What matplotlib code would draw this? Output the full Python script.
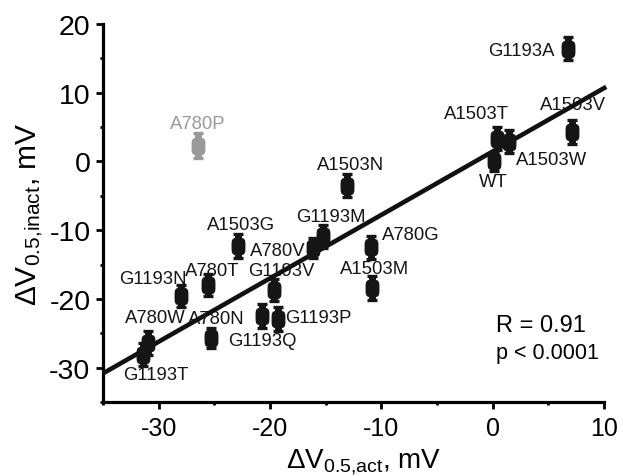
import matplotlib.pyplot as plt
import numpy as np
from matplotlib.path import Path

plt.rcParams['font.family'] = ['Liberation Sans', 'DejaVu Sans']
plt.rcParams['mathtext.fontset'] = 'custom'
plt.rcParams['mathtext.rm'] = 'Liberation Sans'
plt.rcParams['mathtext.default'] = 'regular'
plt.rcParams['axes.unicode_minus'] = False

# mutants, shift of V0.5 of activation / inactivation (mV)
names = ['G1193A', 'A780P', 'A1503T', 'A1503W', 'WT', 'A1503V', 'A1503N',
         'G1193M', 'A780V', 'A1503G', 'A780G', 'A1503M', 'G1193V', 'A780T',
         'G1193N', 'A780W', 'A780N', 'G1193P', 'G1193Q', 'G1193T']
dv_act = [6.8, -26.5, 0.4, 1.5, 0.15, 7.1, -13.1,
          -15.2, -16.1, -22.9, -10.9, -10.8, -19.6, -25.6,
          -28.0, -31.0, -25.3, -19.3, -20.7, -31.4]
dv_inact = [16.4, 2.3, 3.3, 2.9, 0.0, 4.3, -3.5,
            -10.9, -12.6, -12.3, -12.5, -18.4, -18.7, -18.0,
            -19.6, -26.4, -25.7, -22.9, -22.5, -28.1]
err_inact = [1.7, 1.8, 1.7, 1.7, 1.4, 1.8, 1.7,
             1.7, 1.4, 1.7, 1.7, 1.7, 1.6, 1.6,
             1.6, 1.7, 1.4, 1.7, 1.7, 1.7]
outlier = 'A780P'

# label placement, offset in pixels from the point (dx, dy down)
label_off = {
    'G1193A': (-47, 2), 'A780P': (0, -22), 'A1503T': (-21, -25),
    'A1503V': (1, -27), 'A1503W': (42, 18), 'WT': (-1, 20),
    'A1503N': (4, -21), 'G1193M': (7, -20), 'A1503G': (3, -21),
    'A780V': (-36, 2), 'A780G': (39, -13), 'A1503M': (2, -19),
    'G1193V': (7, -19), 'A780T': (5, -15), 'G1193N': (-28, -18),
    'A780W': (8, -25), 'A780N': (5, -20), 'G1193P': (41, -1),
    'G1193Q': (0, 24), 'G1193T': (13, 20),
}

# rounded "barrel" marker
t = np.linspace(0, 2 * np.pi, 60)
mx = 0.8 * np.sign(np.cos(t)) * np.abs(np.cos(t)) ** 0.5
my = np.sign(np.sin(t)) * np.abs(np.sin(t)) ** 0.5
barrel = Path(np.column_stack([mx, my]), closed=True)

fig = plt.figure(figsize=(6.23, 4.77), dpi=100)
ax = fig.add_axes([103 / 623, 74 / 477, 501 / 623, 378 / 477])

for n, x, y, e in zip(names, dv_act, dv_inact, err_inact):
    c = '#9a9a9a' if n == outlier else '#151515'
    ax.errorbar(x, y, yerr=e, fmt='none', ecolor=c, elinewidth=5,
                capsize=3.6, capthick=2.4, zorder=4)
    ax.plot(x, y, marker=barrel, ms=12.5, color=c, mew=0, zorder=5)
    dx, dy = label_off[n]
    ax.annotate(n, (x, y), xytext=(dx, -dy), textcoords='offset pixels',
                ha='center', va='center', fontsize=13.3, color=c)

# linear fit without the outlier
fx = np.array([x for n, x in zip(names, dv_act) if n != outlier])
fy = np.array([y for n, y in zip(names, dv_inact) if n != outlier])
k, b = np.polyfit(fx, fy, 1)
lx = np.array([-35, 10.2])
ax.plot(lx, k * lx + b, color='#111111', lw=3.3, zorder=3, clip_on=False,
        solid_capstyle='butt')

ax.text(0.3, -24.6, 'R = 0.91', fontsize=17)
ax.text(0.3, -28.6, 'p < 0.0001', fontsize=15.5)

ax.set_xlim(-35, 10)
ax.set_ylim(-35, 20)
ax.set_xticks([-30, -20, -10, 0, 10])
ax.set_yticks([-30, -20, -10, 0, 10, 20])
ax.set_xticks(np.arange(-35, 10, 5), minor=True)
ax.set_yticks(np.arange(-35, 20, 5), minor=True)
for s in ['top', 'right']:
    ax.spines[s].set_visible(False)
for s in ['left', 'bottom']:
    ax.spines[s].set_linewidth(2.3)
ax.tick_params(which='major', length=5, width=2, direction='out')
ax.tick_params(which='minor', length=2.5, width=2, direction='out')
ax.tick_params(axis='x', which='major', labelsize=18, pad=5)
ax.tick_params(axis='y', which='major', labelsize=20.5, pad=4)

ax.set_xlabel(r'$\Delta V_{0.5{,}act}$, mV', fontsize=20, labelpad=0)
ax.xaxis.set_label_coords(0.521, -0.117)
ax.set_ylabel(r'$\Delta V_{0.5{,}inact}$, mV', fontsize=21.5, labelpad=2)

fig.savefig('out.png', dpi=100)
